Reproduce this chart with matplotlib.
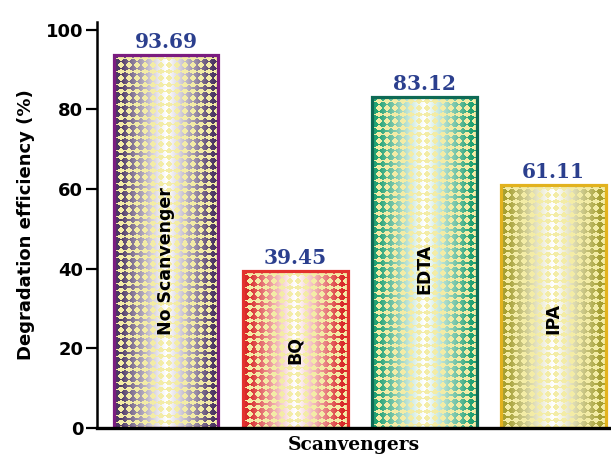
import numpy as np
import matplotlib
matplotlib.use("Agg")
import matplotlib.pyplot as plt
from matplotlib.colors import to_rgb

# data
categories = ["No Scanvenger", "BQ", "EDTA", "IPA"]
values = [93.69, 39.45, 83.12, 61.11]
value_labels = ["93.69", "39.45", "83.12", "61.11"]
edge_colors = ["#7b1c80", "#e3312e", "#0e6a55", "#e2b21e"]
shade_colors = ["#4d3764", "#d92b2b", "#23a273", "#a6a032"]
name_y = [42, 19.5, 40, 27.5]  # vertical position of the in-bar names
yticks = [0, 20, 40, 60, 80, 100]

dot_color = np.array(to_rgb("#f3eca6"))


def texture(h, w, shade):
    # white centre fading to the shade colour at the edges, pale diamonds on top
    shade = np.array(to_rgb(shade))
    xs = np.arange(w) + 0.5
    ys = np.arange(h) + 0.5
    t = np.abs(xs / w - 0.5) * 2
    t = np.clip(t ** 1.2 * 1.15, 0, 1)
    row = (1 - t)[:, None] * np.ones(3) + t[:, None] * shade
    img = np.repeat(row[None, :, :], h, axis=0)
    sx, sy = 8.0, 6.6
    dx = np.abs(((xs - sx / 2 + 1) % sx) - sx / 2)
    dy = np.abs(((ys - 1) % sy) - sy / 2)
    d = dy[:, None] / 3.0 + dx[None, :] / 3.8
    mask = d < 1.0
    img[mask] = dot_color
    return img


fig = plt.figure(figsize=(6.11, 4.69), dpi=100)
ax = fig.add_axes([0.159, 0.0874, 0.841, 0.866])

x = np.arange(1, len(values) + 1)
ax.set_xlim(0.465, 4.446)
ax.set_ylim(0, 102)

bars = ax.bar(x, values, width=0.81, facecolor="none", linewidth=2.3, zorder=3)
for b, ec, sc in zip(bars, edge_colors, shade_colors):
    b.set_edgecolor(ec)
    x0, y0 = b.get_x(), b.get_y()
    x1, y1 = x0 + b.get_width(), y0 + b.get_height()
    p0 = ax.transData.transform((x0, y0))
    p1 = ax.transData.transform((x1, y1))
    w = max(int(round(p1[0] - p0[0])), 2)
    h = max(int(round(p1[1] - p0[1])), 2)
    im = ax.imshow(texture(h, w, sc), extent=(x0, x1, y0, y1), aspect="auto",
                   interpolation="nearest", origin="upper", zorder=2)
    im.set_clip_path(b)

for xi, v, lab in zip(x, values, value_labels):
    ax.annotate(lab, (xi, v), xytext=(0, 2), textcoords="offset points",
                ha="center", va="bottom", fontsize=14.5, fontweight="bold",
                family="DejaVu Serif", color="#2b3f8e")

for xi, ny, name in zip(x, name_y, categories):
    ax.text(xi, ny, name, rotation=90, ha="center", va="center",
            fontsize=12.5, fontweight="bold", color="black", zorder=4)

ax.set_xticks([])
ax.set_yticks(yticks)
ax.tick_params(axis="y", direction="out", length=8, width=1.6, labelsize=13, pad=2)
for t in ax.get_yticklabels():
    t.set_fontweight("bold")
ax.spines["top"].set_visible(False)
ax.spines["right"].set_visible(False)
ax.spines["left"].set_linewidth(1.8)
ax.spines["bottom"].set_linewidth(2.4)
ax.spines["bottom"].set_zorder(5)

ax.set_ylabel("Degradation efficiency (%)", fontsize=13, fontweight="bold", labelpad=8)
ax.set_xlabel("Scanvengers", fontsize=13.5, fontweight="bold", family="DejaVu Serif", labelpad=6)

fig.savefig("out.png", dpi=100)
